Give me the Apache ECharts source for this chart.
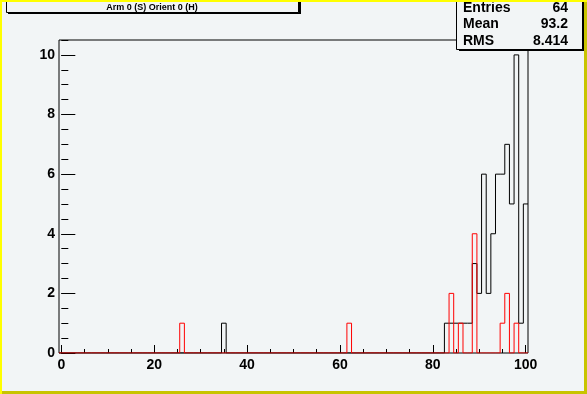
<!DOCTYPE html>
<html>
<head>
<meta charset="utf-8">
<script src="https://cdn.jsdelivr.net/npm/echarts@6/dist/echarts.min.js"></script>
<style>
html,body{margin:0;padding:0;background:#f2f5f6;}
#c{width:587px;height:394px;}
</style>
</head>
<body>
<div id="c"></div>
<script>
// Histogram bins (centres) and counts
const blackBins   = [35, 83, 84, 85, 86, 87, 88, 89, 90, 91, 92, 93, 94, 95, 96, 97, 98, 99, 100];
const blackCounts = [1,  1,  1,  1,  1,  1,  1,  3,  2,  6,  2,  4,  6,  6,  7,  5,  10, 1,  5];
const redBins     = [26, 62, 84, 86, 89, 95, 96, 98];
const redCounts   = [1,  1,  2,  1,  4,  1,  2,  1];
const xTickLabels = [0, 20, 40, 60, 80, 100];
const yTickLabels = [0, 2, 4, 6, 8, 10];
const titleText = 'Arm 0 (S) Orient 0 (H)';
const statNames  = ['Entries', 'Mean', 'RMS'];
const statValues = ['64', '93.2', '8.414'];

const NBINS = 101, XMIN = -0.5, XMAX = 100.5;

function outline(bins, counts) {
  const h = new Array(NBINS).fill(0);
  bins.forEach((b, i) => { h[b] = counts[i]; });
  const pts = [[XMIN, 0]];
  for (let k = 0; k < NBINS; k++) {
    pts.push([k - 0.5, h[k]]);
    pts.push([k + 0.5, h[k]]);
  }
  return pts;
}

const minorX = []; for (let v = 0; v <= 100; v += 5) minorX.push(v);
const minorY = []; for (let v = 0; v <= 10.5; v += 0.5) minorY.push(v);

const BG = '#f2f5f6';
const lab = {fontFamily: 'Liberation Sans, Arial, sans-serif', fontWeight: 'bold', fontSize: 14, color: '#000'};

const chart = echarts.init(document.getElementById('c'), null, {renderer: 'canvas'});
chart.setOption({
  animation: false,
  backgroundColor: BG,
  grid: {left: 59, right: 59, top: 40, bottom: 41, show: true, borderColor: '#000', borderWidth: 1, backgroundColor: BG},
  xAxis: [
    {type: 'value', min: XMIN, max: XMAX, position: 'bottom',
     axisLine: {show: false}, splitLine: {show: false},
     axisTick: {show: true, inside: true, length: 8, customValues: xTickLabels, lineStyle: {color: '#000'}},
     axisLabel: Object.assign({customValues: xTickLabels, margin: 5}, lab)},
    {type: 'value', min: XMIN, max: XMAX, position: 'bottom',
     axisLine: {show: false}, splitLine: {show: false},
     axisTick: {show: true, inside: true, length: 4, customValues: minorX, lineStyle: {color: '#000'}},
     axisLabel: {show: false}}
  ],
  yAxis: [
    {type: 'value', min: 0, max: 10.5, position: 'left',
     axisLine: {show: false}, splitLine: {show: false},
     axisTick: {show: true, inside: true, length: 14, customValues: yTickLabels, lineStyle: {color: '#000'}},
     axisLabel: Object.assign({customValues: yTickLabels, margin: 4}, lab)},
    {type: 'value', min: 0, max: 10.5, position: 'left',
     axisLine: {show: false}, splitLine: {show: false},
     axisTick: {show: true, inside: true, length: 7, customValues: minorY, lineStyle: {color: '#000'}},
     axisLabel: {show: false}}
  ],
  series: [
    {type: 'line', data: outline(blackBins, blackCounts), symbol: 'none',
     lineStyle: {color: '#000', width: 1}, z: 3},
    {type: 'line', data: outline(redBins, redCounts), symbol: 'none',
     lineStyle: {color: '#ff0000', width: 1}, z: 4}
  ],
  graphic: [
    // canvas border
    {type: 'rect', shape: {x: 0, y: 0, width: 587, height: 2}, style: {fill: '#ffff00'}, z: 100},
    {type: 'rect', shape: {x: 0, y: 0, width: 2, height: 394}, style: {fill: '#ffff00'}, z: 100},
    {type: 'rect', shape: {x: 584, y: 2, width: 3, height: 392}, style: {fill: '#c8c400'}, z: 100},
    {type: 'rect', shape: {x: 2, y: 391, width: 585, height: 3}, style: {fill: '#c8c400'}, z: 100},
    // title box
    {type: 'rect', shape: {x: 8, y: -5, width: 293, height: 19}, style: {fill: '#000'}, z: 50},
    {type: 'rect', shape: {x: 6.5, y: -5, width: 292, height: 17.5}, style: {fill: BG, stroke: '#000', lineWidth: 1}, z: 51},
    {type: 'text', x: 152, y: 7.5, style: {text: titleText, fill: '#000', font: 'bold 9px "Liberation Sans", Arial, sans-serif', align: 'center', verticalAlign: 'middle'}, z: 52},
    // stats box
    {type: 'rect', shape: {x: 459, y: -5, width: 125.5, height: 56}, style: {fill: '#000'}, z: 50},
    {type: 'rect', shape: {x: 456.5, y: -5, width: 126, height: 54.5}, style: {fill: BG, stroke: '#000', lineWidth: 1}, z: 51},
    ...statNames.map((n, i) => ({type: 'text', x: 463, y: 8 + i * 16.5,
      style: {text: n, fill: '#000', font: 'bold 14px "Liberation Sans", Arial, sans-serif', align: 'left', verticalAlign: 'middle'}, z: 52})),
    ...statValues.map((v, i) => ({type: 'text', x: 568, y: 8 + i * 16.5,
      style: {text: v, fill: '#000', font: 'bold 14px "Liberation Sans", Arial, sans-serif', align: 'right', verticalAlign: 'middle'}, z: 52}))
  ]
});
</script>
</body>
</html>
